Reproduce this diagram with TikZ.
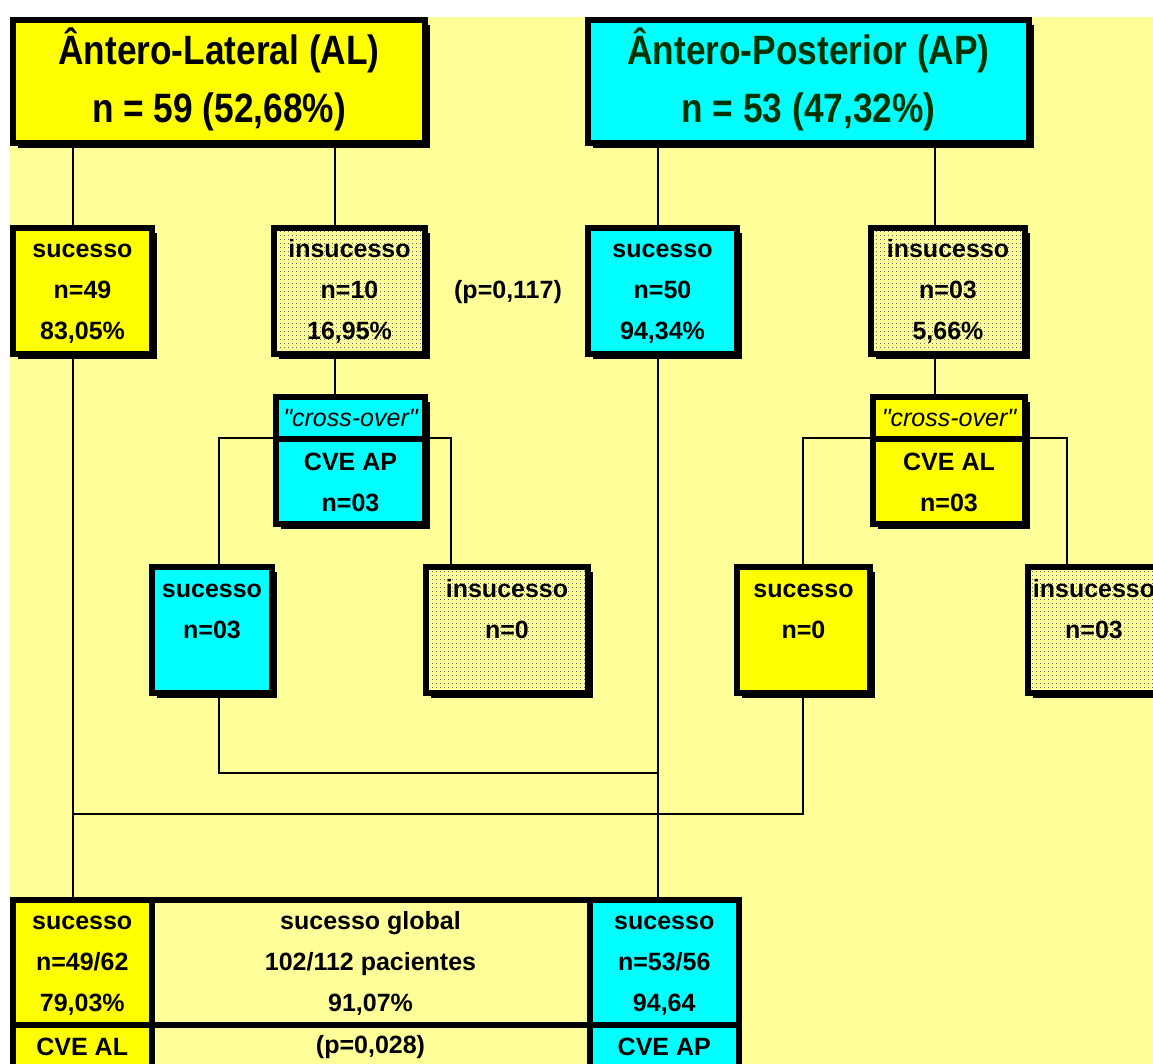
\documentclass[tikz,border=0pt]{standalone}
\usepackage{fontspec}
\setmainfont{Liberation Sans}
\newfontfamily\titlefamily{Liberation Sans}[FakeStretch=0.86]
\newfontfamily\crossfamily{Liberation Sans}[Ligatures=TeXOff]
\usetikzlibrary{patterns,shadows}
\pgfdeclarelayer{bg}
\pgfdeclarelayer{lines}
\pgfsetlayers{bg,lines,main}
\pgfdeclarepatternformonly{mydots}{\pgfqpoint{-1pt}{-1pt}}{\pgfqpoint{3pt}{3pt}}{\pgfqpoint{4pt}{4pt}}{\pgfpathrectangle{\pgfqpoint{0pt}{0pt}}{\pgfqpoint{1pt}{1pt}}\pgfusepath{fill}}
\definecolor{bgyel}{HTML}{FFFF99}
\definecolor{yel}{HTML}{FFFF00}
\definecolor{cyn}{HTML}{00FFFF}
\definecolor{dkgreen}{HTML}{003300}
\newcommand\rowfs{\fontsize{25}{41}\selectfont\bfseries}
\newcommand\titlefs{\titlefamily\fontsize{41}{58}\selectfont\bfseries}
\newcommand\crossfs{\crossfamily\fontsize{25}{41}\selectfont\itshape}
\newcommand\tA{\rule{0pt}{28pt}}
\newcommand\tB{\rule{0pt}{30pt}}
\newcommand\tT{\rule{0pt}{38pt}}
\newcommand\tZ{\rule[-12pt]{0pt}{12pt}}
\newcommand\tY{\rule[-13pt]{0pt}{13pt}}
\tikzset{
  box/.style={draw=black, line width=6pt, rectangle, inner sep=0pt, align=center,
    font=\rowfs,
    drop shadow={shadow xshift=5pt, shadow yshift=-5pt, fill=black, opacity=1}},
  cell/.style={draw=black, line width=6pt, rectangle, inner sep=0pt, align=center,
    font=\rowfs},
  dotbox/.style={preaction={fill=bgyel}, pattern=mydots, pattern color=black!60},
  conn/.style={draw=black, line width=1.5pt},
  r2/.style={minimum height=126pt},
  r3/.style={minimum height=126pt},
}
\begin{document}
\begin{tikzpicture}[x=1pt,y=-1pt]
\useasboundingbox (0,0) rectangle (1153,1064);
\begin{pgfonlayer}{bg}
\fill[white] (0,0) rectangle (1153,1064);
\fill[bgyel] (10,17) rectangle (1153,1064);
\end{pgfonlayer}

% titles
\node[box, fill=yel, minimum width=412pt, minimum height=123pt, font=\titlefs] (al) at (219,81.5) {\tT Ântero-Lateral (AL)\\n = 59 (52,68\%)\tY};
\node[box, fill=cyn, text=dkgreen, minimum width=441pt, minimum height=123pt, font=\titlefs] (ap) at (808.5,81.5) {\tT Ântero-Posterior (AP)\\n = 53 (47,32\%)\tY};

% row 2
\node[box, fill=yel, r2, minimum width=139pt] (sAL) at (82.5,291) {\tA sucesso\\n=49\\83,05\%\tZ};
\node[box, dotbox, r2, minimum width=151pt] (iAL) at (349.5,291) {\tA insucesso\\n=10\\16,95\%\tZ};
\node[font=\rowfs] (p1) at (508,292) {(p=0,117)};
\node[box, fill=cyn, r2, minimum width=149pt] (sAP) at (662.5,291) {\tA sucesso\\n=50\\94,34\%\tZ};
\node[box, dotbox, r2, minimum width=154pt] (iAP) at (948,291) {\tA insucesso\\n=03\\5,66\%\tZ};

% cross-over
\node[box, fill=cyn, minimum width=149pt, minimum height=42pt, font=\crossfs] (xAPh) at (350.5,418) {"cross-over"};
\node[box, fill=cyn, minimum width=149pt, minimum height=85pt] (xAP) at (350.5,481.5) {\tB CVE AP\\n=03\tZ};
\node[box, fill=yel, minimum width=152pt, minimum height=42pt, font=\crossfs] (xALh) at (949,418) {"cross-over"};
\node[box, fill=yel, minimum width=152pt, minimum height=85pt] (xAL) at (949,481.5) {\tB CVE AL\\n=03\tZ};

% row 3
\node[box, fill=cyn, r3, minimum width=120pt] (r3sAP) at (212,630) {\tA sucesso\\n=03\\\tZ};
\node[box, dotbox, r3, minimum width=162pt] (r3iAL) at (507,630) {\tA insucesso\\n=0\\\tZ};
\node[box, fill=yel, r3, minimum width=133pt] (r3sAL) at (803.5,630) {\tA sucesso\\n=0\\\tZ};
\node[box, dotbox, r3, minimum width=132pt] (r3iAP) at (1094,630) {\tA insucesso\\n=03\\\tZ};

% bottom table
\node[cell, fill=yel, minimum width=138.5pt, minimum height=124.5pt] (tAL) at (82.25,962.25) {\tA sucesso\\n=49/62\\79,03\%\tZ};
\node[cell, fill=bgyel, minimum width=438pt, minimum height=124.5pt] (tG) at (370.5,962.25) {\tA sucesso global\\102/112 pacientes\\91,07\%\tZ};
\node[cell, fill=cyn, minimum width=149.5pt, minimum height=124.5pt] (tAP) at (664.25,962.25) {\tA sucesso\\n=53/56\\94,64\tZ};
\node[cell, fill=yel, minimum width=138.5pt, minimum height=45pt] (bAL) at (82.25,1047) {CVE AL};
\node[cell, fill=bgyel, minimum width=438pt, minimum height=45pt] (bG) at (370.5,1047) {(p=0,028)};
\node[cell, fill=cyn, minimum width=149.5pt, minimum height=45pt] (bAP) at (664.25,1047) {CVE AP};

% connector guide coordinates
\coordinate (xa) at (73,0);
\coordinate (xb) at (335,0);
\coordinate (xc) at (658,0);
\coordinate (xd) at (935,0);
\coordinate (xe) at (219,0);
\coordinate (xf) at (451,0);
\coordinate (xg) at (803,0);
\coordinate (xh) at (1067,0);
\coordinate (ya) at (0,773);
\coordinate (yb) at (0,814);
\coordinate (yc) at (0,438);

\begin{pgfonlayer}{lines}
\draw[conn] (xa |- al.south) -- (xa |- sAL.north);
\draw[conn] (xb |- al.south) -- (xb |- iAL.north);
\draw[conn] (xc |- ap.south) -- (xc |- sAP.north);
\draw[conn] (xd |- ap.south) -- (xd |- iAP.north);
\draw[conn] (xb |- iAL.south) -- (xb |- xAPh.north);
\draw[conn] (xd |- iAP.south) -- (xd |- xALh.north);
\draw[conn] (xe |- r3sAP.north) -- (xe |- yc) -- (xf |- yc) -- (xf |- r3iAL.north);
\draw[conn] (xg |- r3sAL.north) -- (xg |- yc) -- (xh |- yc) -- (xh |- r3iAP.north);
\draw[conn] (xe |- r3sAP.south) -- (xe |- ya) -- (xc |- ya);
\draw[conn] (xg |- r3sAL.south) -- (xg |- yb) -- (xa |- yb);
\draw[conn] (xa |- sAL.south) -- (xa |- tAL.north);
\draw[conn] (xc |- sAP.south) -- (xc |- tAP.north);
\end{pgfonlayer}
\end{tikzpicture}
\end{document}
